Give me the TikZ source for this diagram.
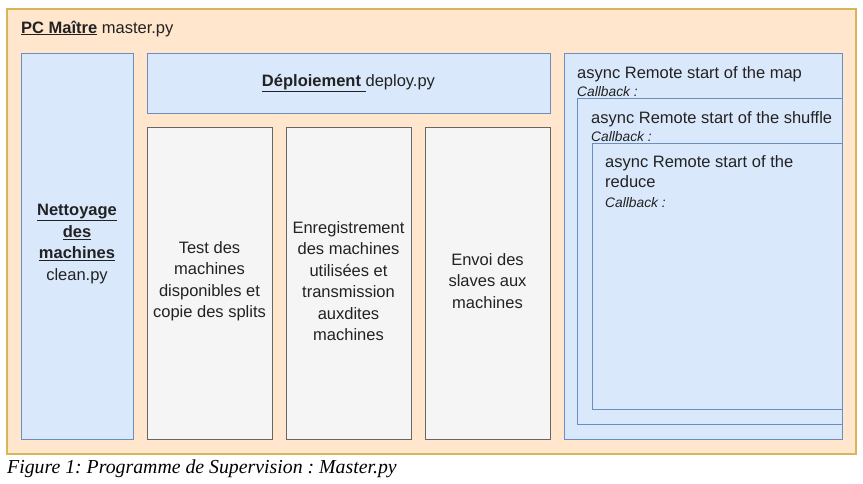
\documentclass[tikz,border=0pt]{standalone}
\usepackage{fontspec}
\setmainfont{Liberation Sans}
\newfontfamily\capfont{Liberation Serif}
\frenchspacing
\definecolor{orfill}{HTML}{FFE6CC}
\definecolor{ordraw}{HTML}{D6B656}
\definecolor{blfill}{HTML}{DAE8FC}
\definecolor{bldraw}{HTML}{6C8EBF}
\definecolor{grfill}{HTML}{F5F5F5}
\definecolor{grdraw}{HTML}{666666}
\definecolor{txt}{HTML}{222222}
\tikzset{
  outerbox/.style={fill=orfill,draw=ordraw,line width=1.2pt},
  bluebox/.style={fill=blfill,draw=bldraw,line width=1pt},
  graybox/.style={fill=grfill,draw=grdraw,line width=1pt},
  lbl/.style={inner sep=0pt,text=txt,font=\fontsize{16.5}{21.5}\selectfont},
  cbl/.style={inner sep=0pt,text=txt,font=\fontsize{13.8}{16}\selectfont\itshape},
}
\begin{document}
\begin{tikzpicture}[x=1pt,y=-1pt]
\useasboundingbox (0,0) rectangle (863,483);
\fill[white] (0,0) rectangle (863,483);
% outer
\draw[outerbox] (7,9) rectangle (856,454);
\node[lbl,anchor=base west] (pctitle) at (21,33) {\underline{\textbf{PC Maître}} master.py};
% left box
\draw[bluebox] (21,53) rectangle (133,439);
\node[lbl,align=center] (clean) at (77,244) {\textbf{\underline{Nettoyage}}\\\textbf{\underline{des}}\\\textbf{\underline{machines}}\\clean.py};
% deploy
\draw[bluebox] (147,53) rectangle (550,113);
\node[lbl,anchor=base] (deploy) at (348.5,86) {\underline{\textbf{Déploiement\ }}deploy.py};
% gray boxes
\draw[graybox] (147,127) rectangle (272,439);
\draw[graybox] (286,127) rectangle (411,439);
\draw[graybox] (425,127) rectangle (550,439);
\node[lbl,align=center] (g1) at (209.5,281) {Test des\\machines\\disponibles et\\copie des splits};
\node[lbl,align=center] (g2) at (348.5,281) {Enregistrement\\des machines\\utilisées et\\transmission\\auxdites\\machines};
\node[lbl,align=center] (g3) at (487.5,281) {Envoi des\\slaves aux\\machines};
% right nested boxes
\draw[bluebox] (564,53) rectangle (842,439);
\node[lbl,anchor=base west] (map) at (577,78) {async Remote start of the map};
\node[cbl,anchor=base west] (cb1) at (577,96) {Callback :};
\draw[bluebox] (577,98) rectangle (842,424);
\node[lbl,anchor=base west] (shuf) at (591,123) {async Remote start of the shuffle};
\node[cbl,anchor=base west] (cb2) at (591,141) {Callback :};
\draw[bluebox] (592,143) rectangle (842,409);
\node[lbl,anchor=base west] (red1) at (605,167) {async Remote start of the};
\node[lbl,anchor=base west] (red2) at (605,187) {reduce};
\node[cbl,anchor=base west] (cb3) at (605,207) {Callback :};
% caption
\node[inner sep=0pt,anchor=base west,font=\fontsize{19.8}{22}\selectfont\capfont\itshape] (cap) at (7,473) {Figure 1: Programme de Supervision : Master.py};
\end{tikzpicture}
\end{document}
